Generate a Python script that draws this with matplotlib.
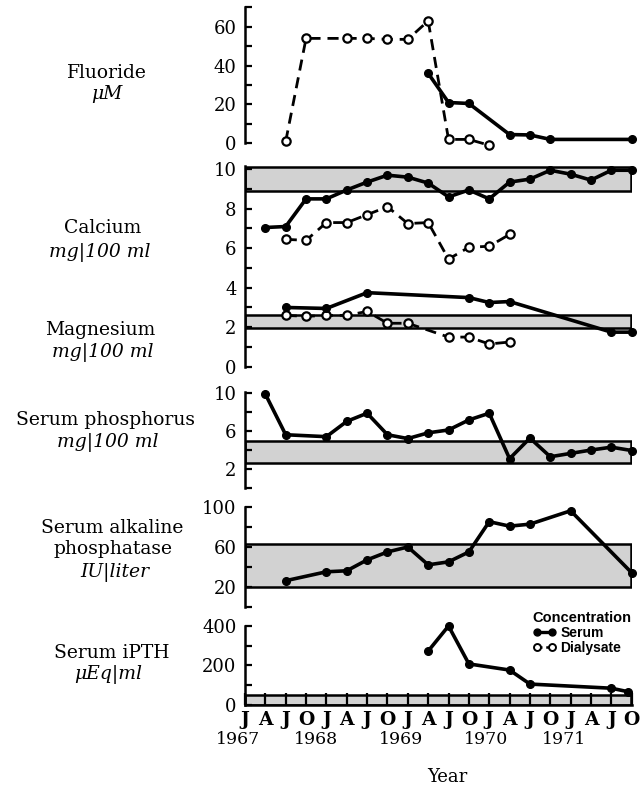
import matplotlib
matplotlib.use("Agg")
import matplotlib.pyplot as plt
from matplotlib.lines import Line2D
from matplotlib.ticker import MultipleLocator, FixedLocator, NullFormatter

# ---------------- data (months since Jan 1967) ----------------
fl_dial_m = [6, 9, 15, 18, 21, 24, 27, 30, 33, 36]
fl_dial = [1, 54, 54, 54, 53.5, 53.5, 63, 2, 2, -1]
fl_ser_m = [27, 30, 33, 39, 42, 45, 57]
fl_ser = [36, 21, 20.5, 4.5, 4.3, 2, 2]

ca_ser_m = [3, 6, 9, 12, 15, 18, 21, 24, 27, 30, 33, 36, 39, 42, 45, 48, 51, 54, 57]
ca_ser = [7.05, 7.1, 8.5, 8.5, 8.95, 9.35, 9.7, 9.6, 9.3, 8.6, 8.95, 8.5,
          9.35, 9.5, 9.95, 9.75, 9.45, 9.95, 9.95]
ca_dial_m = [6, 9, 12, 15, 18, 21, 24, 27, 30, 33, 36, 39]
ca_dial = [6.45, 6.4, 7.3, 7.3, 7.7, 8.1, 7.25, 7.3, 5.45, 6.05, 6.1, 6.7]
ca_range = (8.9, 10.1)

mg_ser_m = [6, 12, 18, 33, 36, 39, 54, 57]
mg_ser = [3.0, 2.95, 3.75, 3.5, 3.25, 3.3, 1.75, 1.75]
mg_dial_m = [6, 9, 12, 15, 18, 21, 24, 30, 33, 36, 39]
mg_dial = [2.6, 2.55, 2.6, 2.6, 2.8, 2.2, 2.2, 1.5, 1.5, 1.15, 1.25]
mg_range = (1.95, 2.6)

p_m = [3, 6, 12, 15, 18, 21, 24, 27, 30, 33, 36, 39, 42, 45, 48, 51, 54, 57]
p_ser = [9.85, 5.6, 5.4, 7.0, 7.85, 5.6, 5.2, 5.8, 6.1, 7.15, 7.85, 3.1,
         5.25, 3.3, 3.65, 4.0, 4.3, 3.95]
p_range = (2.6, 4.9)

ap_m = [6, 12, 15, 18, 21, 24, 27, 30, 33, 36, 39, 42, 48, 57]
ap_ser = [26, 35, 36, 47, 55, 60, 42, 45, 55, 85.5, 81, 83, 96.5, 34]
ap_range = (20, 63)

pth_m = [27, 30, 33, 39, 42, 54, 56.5]
pth_ser = [273, 400, 208, 177, 106, 85, 67]
pth_range = (0, 50)

month_ticks = list(range(0, 58, 3))
month_labels = ["J", "A", "J", "O"] * 5
years = ["1967", "1968", "1969", "1970", "1971"]
year_pos = [-1, 10.5, 23, 35.5, 47]

# ---------------- styling ----------------
W, H = 643, 788
fig = plt.figure(figsize=(W / 100, H / 100), dpi=100)
SERIF = ["DejaVu Serif"]
TICK_FS = 13

x0 = 245
xr = 631.7


def add_axes(top_px, bottom_px):
    return fig.add_axes([x0 / W, 1 - bottom_px / H, (xr - x0) / W, (bottom_px - top_px) / H])


def style(ax, ylim, major, labeled, minor=None):
    ax.set_xlim(0, 57)
    ax.set_ylim(*ylim)
    for s in ["top", "right", "bottom"]:
        ax.spines[s].set_visible(False)
    ax.spines["left"].set_linewidth(1.8)
    ax.xaxis.set_visible(False)
    ax.yaxis.set_major_locator(FixedLocator(major))
    ax.set_yticklabels([str(v) if v in labeled else "" for v in major],
                       fontfamily=SERIF, fontsize=TICK_FS)
    if minor is not None:
        ax.yaxis.set_minor_locator(FixedLocator(minor))
        ax.yaxis.set_minor_formatter(NullFormatter())
    ax.tick_params(axis="y", which="both", direction="in", length=5, width=1.6, pad=6)
    ax.patch.set_alpha(0)


def band(ax, rng):
    ax.axhspan(rng[0], rng[1], xmin=0, xmax=0.997, facecolor="#d2d2d2",
               edgecolor="black", linewidth=1.8, zorder=1)


def serum(ax, m, v):
    ax.plot(m, v, "-", color="black", lw=2.6, marker="o", ms=5.5,
            mfc="black", mec="black", zorder=4, clip_on=False)


def dial(ax, m, v):
    ax.plot(m, v, color="black", lw=2.0, dashes=(4, 2.5), marker="o", ms=6,
            mfc="white", mec="black", mew=1.6, zorder=3, clip_on=False)


# Fluoride
ax1 = add_axes(7.3, 143.3)
style(ax1, (0, 70), [0, 20, 40, 60], [0, 20, 40, 60], [10, 30, 50, 70])
dial(ax1, fl_dial_m, fl_dial)
serum(ax1, fl_ser_m, fl_ser)

# Calcium / Magnesium
ax2 = add_axes(166.3, 366.7)
style(ax2, (0, 10.15), [0, 2, 4, 6, 8, 10], [0, 2, 4, 6, 8, 10], [1, 3, 5, 7, 9])
band(ax2, ca_range)
band(ax2, mg_range)
dial(ax2, ca_dial_m, ca_dial)
serum(ax2, ca_ser_m, ca_ser)
dial(ax2, mg_dial_m, mg_dial)
serum(ax2, mg_ser_m, mg_ser)

# Phosphorus
ax3 = add_axes(392.2, 488.3)
style(ax3, (0, 10.05), [0, 2, 4, 6, 8, 10], [2, 6, 10])
band(ax3, p_range)
serum(ax3, p_m, p_ser)

# Alkaline phosphatase
ax4 = add_axes(506.8, 606.5)
style(ax4, (0, 100.5), [0, 20, 40, 60, 80, 100], [20, 60, 100])
band(ax4, ap_range)
serum(ax4, ap_m, ap_ser)

# iPTH
ax5 = add_axes(625.6, 705)
style(ax5, (0, 402), [0, 100, 200, 300, 400], [0, 200, 400])
band(ax5, pth_range)
serum(ax5, pth_m, pth_ser)
ax5.xaxis.set_visible(True)
ax5.spines["bottom"].set_visible(True)
ax5.spines["bottom"].set_linewidth(1.8)
ax5.set_xticks(month_ticks)
ax5.set_xticklabels(month_labels, fontfamily=SERIF, fontsize=13.5, fontweight="bold")
ax5.tick_params(axis="x", direction="in", length=9, width=1.6, pad=4)
for yp, yl in zip(year_pos, years):
    ax5.text(yp, -0.43, yl, transform=ax5.get_xaxis_transform(), ha="center",
             va="center", fontfamily=SERIF, fontsize=12.5)
fig.text(447 / W, 1 - 777 / H, "Year", ha="center", va="center",
         fontfamily=SERIF, fontsize=13)

# legend
handles = [
    Line2D([], [], color="black", lw=2.4, marker="o", ms=5, mfc="black", mec="black"),
    Line2D([], [], color="black", lw=1.8, dashes=(2, 1.5), marker="o", ms=5,
           mfc="white", mec="black", mew=1.4),
]
leg = ax5.legend(handles, ["Serum", "Dialysate"], title="Concentration",
                 loc="upper right", bbox_to_anchor=(1.0, 1.18), frameon=False,
                 numpoints=2, handlelength=1.7, handletextpad=0.3,
                 labelspacing=0.05, borderaxespad=0, borderpad=0,
                 prop={"family": "Liberation Sans", "weight": "bold", "size": 10})
leg.get_title().set_fontfamily("Liberation Sans")
leg.get_title().set_fontweight("bold")
leg.get_title().set_fontsize(10.5)
leg._legend_box.align = "left"

# left-hand labels
labels = [
    (107, 73, "Fluoride", "normal"), (107, 94, r"$\mu$M", "italic"),
    (103, 228, "Calcium", "normal"), (100, 252, "mg|100 ml", "italic"),
    (100, 330, "Magnesium", "normal"), (103, 352, "mg|100 ml", "italic"),
    (105, 420, "Serum phosphorus", "normal"), (108, 443, "mg|100 ml", "italic"),
    (112, 528, "Serum alkaline", "normal"), (113, 549, "phosphatase", "normal"),
    (115, 572, "IU|liter", "italic"),
    (112, 653, "Serum iPTH", "normal"), (108, 675, "μEq|ml", "italic"),
]
for xp, yp, t, st in labels:
    if t.startswith("$"):
        t = "μM"
    fig.text(xp / W, 1 - yp / H, t, ha="center", va="center",
             fontfamily=SERIF, fontsize=13.5, fontstyle=st)

fig.savefig("out.png", dpi=100)
